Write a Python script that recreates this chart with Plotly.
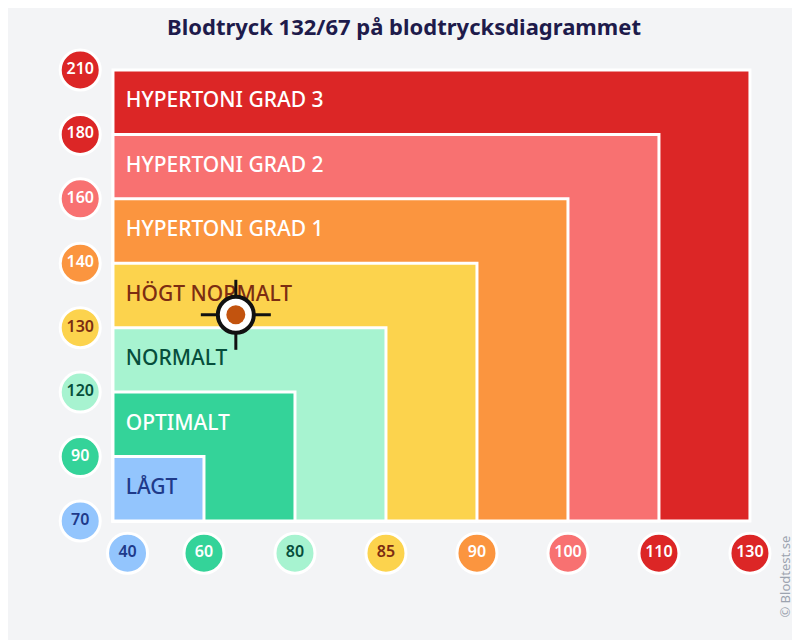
import plotly.graph_objects as go

# categories from innermost to outermost
categories = ["LÅGT", "OPTIMALT", "NORMALT", "HÖGT NORMALT",
              "HYPERTONI GRAD 1", "HYPERTONI GRAD 2", "HYPERTONI GRAD 3"]
fill_colors = ["#93c5fd", "#34d399", "#a7f3d0", "#fcd34d",
               "#fb953f", "#f87171", "#dc2626"]
text_colors = ["#1e3a8a", "#ffffff", "#064e3b", "#7c2d12",
               "#ffffff", "#ffffff", "#ffffff"]

dia_ticks = [40, 60, 80, 85, 90, 100, 110, 130]
sys_ticks = [70, 90, 120, 130, 140, 160, 180, 210]
tick_colors = ["#93c5fd", "#34d399", "#a7f3d0", "#fcd34d",
               "#fb953f", "#f87171", "#dc2626", "#dc2626"]
tick_text = ["#1e3a8a", "#ffffff", "#064e3b", "#7c2d12",
             "#ffffff", "#ffffff", "#ffffff", "#ffffff"]

systolic, diastolic = 132, 67


def to_index(v, ticks):
    for i in range(len(ticks) - 1):
        if ticks[i] <= v <= ticks[i + 1]:
            return i + (v - ticks[i]) / (ticks[i + 1] - ticks[i])
    return 0


fig = go.Figure()
shapes = []
for i in reversed(range(len(categories))):
    shapes.append(dict(type="rect", xref="x", yref="y", x0=0, y0=0, x1=i + 1, y1=i + 1,
                       fillcolor=fill_colors[i], line=dict(color="white", width=3), layer="below"))

fig.add_trace(go.Scatter(
    x=[0.14] * len(categories), y=[i + 0.5 for i in range(len(categories))],
    mode="text", text=categories, textposition="middle right",
    textfont=dict(size=21, color=text_colors, weight=500), hoverinfo="skip", showlegend=False))

xpos = [0.16] + list(range(1, len(dia_ticks)))
fig.add_trace(go.Scatter(
    x=xpos, y=[-0.5] * len(dia_ticks), mode="markers+text", text=[str(t) for t in dia_ticks],
    marker=dict(size=40, color=tick_colors, line=dict(color="white", width=3)),
    textfont=dict(size=16, color=tick_text, weight=600), showlegend=False, hoverinfo="skip"))
fig.add_trace(go.Scatter(
    x=[-0.36] * len(sys_ticks), y=list(range(len(sys_ticks))), mode="markers+text",
    text=[str(t) for t in sys_ticks],
    marker=dict(size=40, color=tick_colors, line=dict(color="white", width=3)),
    textfont=dict(size=16, color=tick_text, weight=600), showlegend=False, hoverinfo="skip"))

px_ = to_index(diastolic, dia_ticks)
py_ = to_index(systolic, sys_ticks)
for sym in ["line-ew", "line-ns"]:
    fig.add_trace(go.Scatter(x=[px_], y=[py_], mode="markers", showlegend=False, hoverinfo="skip",
                             marker=dict(symbol=sym, size=50, line=dict(color="#111111", width=3))))
fig.add_trace(go.Scatter(x=[px_], y=[py_], mode="markers", showlegend=False, hoverinfo="skip",
                         marker=dict(size=36, color="white", line=dict(color="#111111", width=4))))
fig.add_trace(go.Scatter(x=[px_], y=[py_], mode="markers", showlegend=False,
                         marker=dict(size=19, color="#c2530e")))

fig.update_layout(
    width=792, height=632, shapes=shapes,
    paper_bgcolor="#f3f4f6", plot_bgcolor="#f3f4f6",
    margin=dict(l=30, r=10, t=40, b=60),
    font=dict(family="Noto Sans, sans-serif", color="#1e1b4b"),
    title=dict(text="<b>Blodtryck 132/67 på blodtrycksdiagrammet</b>", x=0.5, y=0.97,
               xanchor="center", yanchor="middle", font=dict(size=22, color="#1e1b4b")),
    xaxis=dict(range=[-0.824, 7.44], visible=False, fixedrange=True),
    yaxis=dict(range=[-0.916, 7.341], visible=False, fixedrange=True),
    annotations=[
        dict(text="  ".join("DIASTOLISKT") + "      " + "  ".join("BLODTRYCK"), xref="x", yref="y",
             x=3.505, y=-1.3, showarrow=False, font=dict(size=16, color="#1e1b4b")),
        dict(text="  ".join("SYSTOLISKT") + "      " + "  ".join("BLODTRYCK"), xref="x", yref="y",
             x=-0.967, y=3.51, textangle=-90, showarrow=False, font=dict(size=16, color="#1e1b4b")),
        dict(text="© Blodtest.se", xref="x", yref="y", x=7.38, y=-0.87, textangle=-90,
             showarrow=False, font=dict(size=13, color="#9ca3af")),
    ],
)

fig.write_html("out.html")
